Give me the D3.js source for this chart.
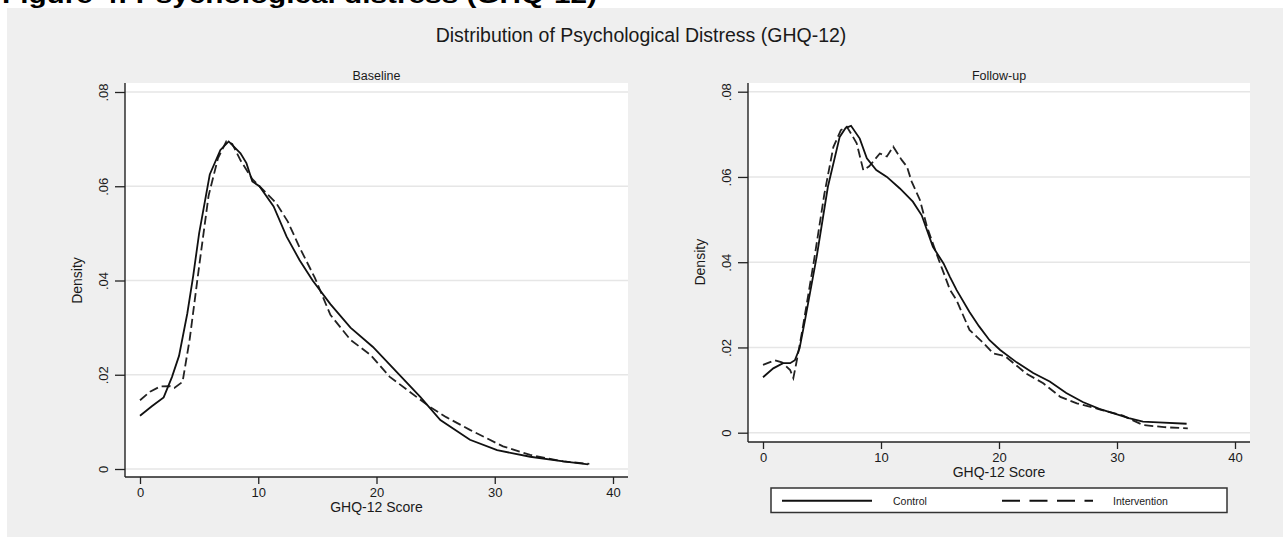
<!DOCTYPE html>
<html>
<head>
<meta charset="utf-8">
<script src="https://cdn.jsdelivr.net/npm/d3@7"></script>
<style>
  body { margin: 0; background: #fff; }
  text { font-family: "Liberation Sans", Arial, sans-serif; fill: #1a1a1a; }
</style>
</head>
<body>
<script>
//chart values
var xTicks = [0, 10, 20, 30, 40];
var yTicks = [0, .02, .04, .06, .08];
var seriesNames = ["Control", "Intervention"];

//Baseline, control (solid)
var baseCtrlX = [0, 1, 2, 2.7, 3.3, 4.0, 4.5, 5.0, 5.9, 6.8, 7.5, 8.5, 9.0, 9.5, 10.1, 11.3, 12.4, 13.5, 14.6, 16.1, 17.8, 19.7, 21.7, 23.7, 25.4, 27.9, 30.2, 33, 35.8, 37.9];
var baseCtrlY = [.0113, .0133, .0152, .0195, .024, .033, .041, .050, .0625, .0677, .0695, .067, .0649, .061, .060, .0557, .0493, .0443, .040, .0350, .0300, .0259, .0206, .0153, .0104, .0062, .0040, .0026, .0016, .0010];

//Baseline, intervention (dashed)
var baseIntX = [0, 0.85, 1.7, 2.5, 2.9, 3.6, 4.2, 5.0, 5.8, 6.6, 7.3, 7.8, 8.5, 9.5, 10.5, 11.5, 12.5, 13.5, 14.8, 16.1, 17.8, 19.5, 21.1, 22.8, 24.5, 25.9, 27.9, 30.7, 33, 35.8, 38];
var baseIntY = [.0146, .0164, .0175, .0176, .0172, .0185, .0275, .043, .058, .066, .0695, .069, .0655, .0615, .0590, .0565, .0525, .047, .0405, .0327, .0274, .0242, .0196, .0164, .0132, .011, .0083, .0048, .0030, .0016, .0011];

//Follow-up, control (solid)
var fupCtrlX = [0, 0.87, 1.7, 2.3, 2.7, 3.1, 3.56, 4.55, 5.5, 6.5, 7.0, 7.46, 8.2, 8.8, 9.6, 10.5, 11.6, 12.7, 13.45, 14.4, 15.3, 15.85, 16.4, 17.5, 18.3, 19.2, 20.1, 21.5, 22.9, 24.3, 25.7, 27.1, 28.5, 30, 31, 32.2, 33.5, 35.9];
var fupCtrlY = [.013, .0151, .0163, .0163, .017, .0198, .0264, .0413, .0577, .0694, .0715, .072, .069, .0644, .0616, .060, .0573, .0542, .051, .0436, .0397, .0365, .0335, .0283, .025, .0217, .0194, .0165, .0140, .0120, .0093, .0072, .0056, .0043, .0034, .0026, .0024, .0021];

//Follow-up, intervention (dashed)
var fupIntX = [0, 1.0, 1.6, 2.3, 2.57, 2.8, 3.3, 4.3, 5.2, 5.96, 6.6, 7.1, 7.5, 7.94, 8.5, 9.0, 9.9, 10.5, 11.04, 11.75, 12.2, 12.6, 13.3, 13.9, 14.7, 15.85, 16.4, 17.5, 18.7, 19.5, 20.5, 22.3, 23.75, 25.2, 26.6, 28.5, 30.5, 32.2, 34, 36];
var fupIntY = [.0159, .017, .0165, .0147, .0128, .016, .0235, .040, .056, .067, .071, .0718, .070, .0679, .0616, .0625, .0655, .0648, .0671, .064, .0624, .0589, .0546, .0483, .042, .0335, .0311, .0241, .021, .0186, .018, .0139, .0116, .0084, .0069, .0055, .0040, .0018, .0013, .0010];

var W = 1283, H = 537;
var font = '"Liberation Sans", Arial, sans-serif';

var svg = d3.select('body').append('svg').attr('width', W).attr('height', H);

//document heading above the graph, only its lower part shows
svg.append('text').attr('x', 2).attr('y', 3).
  attr('font-size', 24).attr('font-weight', 'bold').
  attr('textLength', 595).attr('lengthAdjust', 'spacingAndGlyphs').
  style('fill', '#000').text('Figure 4: Psychological distress (GHQ-12)');

//grey graph region
svg.append('rect').attr('x', 7).attr('y', 8).attr('width', W - 7).attr('height', H - 8).attr('fill', '#efefef');

svg.append('text').attr('x', 641).attr('y', 42).attr('text-anchor', 'middle').
  attr('font-size', 19.5).text('Distribution of Psychological Distress (GHQ-12)');

function toPoints(xs, ys) {
  return xs.map(function(d, i) { return {x: d, y: ys[i]}; });
}

function yLabel(d) {
  return d === 0 ? '0' : d3.format('.2f')(d).replace('0.', '.');
}

function drawPanel(cfg) {
  var g = svg.append('g');
  var xScale = d3.scaleLinear().domain([0, 40]).range([cfg.x0, cfg.x40]);
  var yScale = d3.scaleLinear().domain([0, .08]).range([cfg.y0, cfg.y08]);

  //white plot region
  g.append('rect').attr('x', cfg.left).attr('y', cfg.top).
    attr('width', cfg.right - cfg.left).attr('height', cfg.axisY - cfg.top).attr('fill', '#fff');

  //grid lines
  g.selectAll('line.grid').data(yTicks).enter().append('line').attr('class', 'grid').
    attr('x1', cfg.left).attr('x2', cfg.right).
    attr('y1', function(d) { return yScale(d); }).attr('y2', function(d) { return yScale(d); }).
    attr('stroke', '#e6e6e6').attr('stroke-width', 1.6);

  //curves
  var line = d3.line().x(function(d) { return xScale(d.x); }).y(function(d) { return yScale(d.y); });
  g.append('path').datum(toPoints(cfg.intX, cfg.intY)).attr('d', line).
    attr('fill', 'none').attr('stroke', '#222').attr('stroke-width', 1.8).attr('stroke-dasharray', '9,4');
  g.append('path').datum(toPoints(cfg.ctrlX, cfg.ctrlY)).attr('d', line).
    attr('fill', 'none').attr('stroke', '#111').attr('stroke-width', 1.8);

  //y axis
  var yAxis = d3.axisLeft(yScale).tickValues(yTicks).tickFormat(yLabel).tickSize(10);
  var ya = g.append('g').attr('transform', 'translate(' + cfg.left + ',0)').call(yAxis);
  ya.select('.domain').remove();
  ya.selectAll('.tick line').attr('stroke', '#222').attr('stroke-width', 1.3);
  ya.selectAll('.tick text').attr('x', 0).attr('dy', 0).attr('text-anchor', 'middle').
    attr('transform', 'translate(-17,0) rotate(-90)').
    style('font-family', font).style('font-size', '13px').style('fill', '#1a1a1a');

  //x axis
  var xAxis = d3.axisBottom(xScale).tickValues(xTicks).tickSize(7).tickPadding(4);
  var xa = g.append('g').attr('transform', 'translate(0,' + cfg.axisY + ')').call(xAxis);
  xa.select('.domain').remove();
  xa.selectAll('.tick line').attr('stroke', '#222').attr('stroke-width', 1.3);
  xa.selectAll('.tick text').style('font-family', font).style('font-size', '13px').style('fill', '#1a1a1a');

  //axis lines along the plot region
  g.append('line').attr('x1', cfg.left).attr('x2', cfg.left).attr('y1', cfg.top).attr('y2', cfg.axisY).
    attr('stroke', '#222').attr('stroke-width', 1.4);
  g.append('line').attr('x1', cfg.left).attr('x2', cfg.right).attr('y1', cfg.axisY).attr('y2', cfg.axisY).
    attr('stroke', '#222').attr('stroke-width', 1.4);

  //titles
  g.append('text').attr('x', (cfg.x0 + cfg.x40) / 2).attr('y', 80).attr('text-anchor', 'middle').
    attr('font-size', 12.5).text(cfg.title);
  g.append('text').attr('x', xScale(20)).attr('y', cfg.axisY + 35).attr('text-anchor', 'middle').
    attr('font-size', 14).text('GHQ-12 Score');
  var my = (cfg.y0 + cfg.y08) / 2;
  g.append('text').attr('text-anchor', 'middle').
    attr('transform', 'translate(' + (cfg.left - 43.5) + ',' + my + ') rotate(-90)').
    attr('font-size', 14).text('Density');
}

drawPanel({title: 'Baseline', left: 125, right: 628, top: 83, axisY: 477,
  x0: 140, x40: 613, y0: 469, y08: 92,
  ctrlX: baseCtrlX, ctrlY: baseCtrlY, intX: baseIntX, intY: baseIntY});

drawPanel({title: 'Follow-up', left: 748, right: 1250, top: 83, axisY: 442,
  x0: 763, x40: 1235, y0: 432.7, y08: 91.7,
  ctrlX: fupCtrlX, ctrlY: fupCtrlY, intX: fupIntX, intY: fupIntY});

//legend under the follow-up panel
var lg = svg.append('g');
lg.append('rect').attr('x', 771).attr('y', 488).attr('width', 456).attr('height', 24.5).
  attr('fill', '#fff').attr('stroke', '#333').attr('stroke-width', 1.5);
var keys = [{x1: 782, x2: 872, tx: 893, dash: null},
            {x1: 1002, x2: 1093, tx: 1113, dash: '18,9.5'}];
lg.selectAll('line.key').data(seriesNames).enter().append('line').attr('class', 'key').
  attr('x1', function(d, i) { return keys[i].x1; }).attr('x2', function(d, i) { return keys[i].x2; }).
  attr('y1', 500.7).attr('y2', 500.7).attr('stroke', '#111').attr('stroke-width', 2).
  attr('stroke-dasharray', function(d, i) { return keys[i].dash; });
lg.selectAll('text.key').data(seriesNames).enter().append('text').attr('class', 'key').
  attr('x', function(d, i) { return keys[i].tx; }).attr('y', 504.5).
  attr('font-size', 10.5).text(function(d) { return d; });
</script>
</body>
</html>
